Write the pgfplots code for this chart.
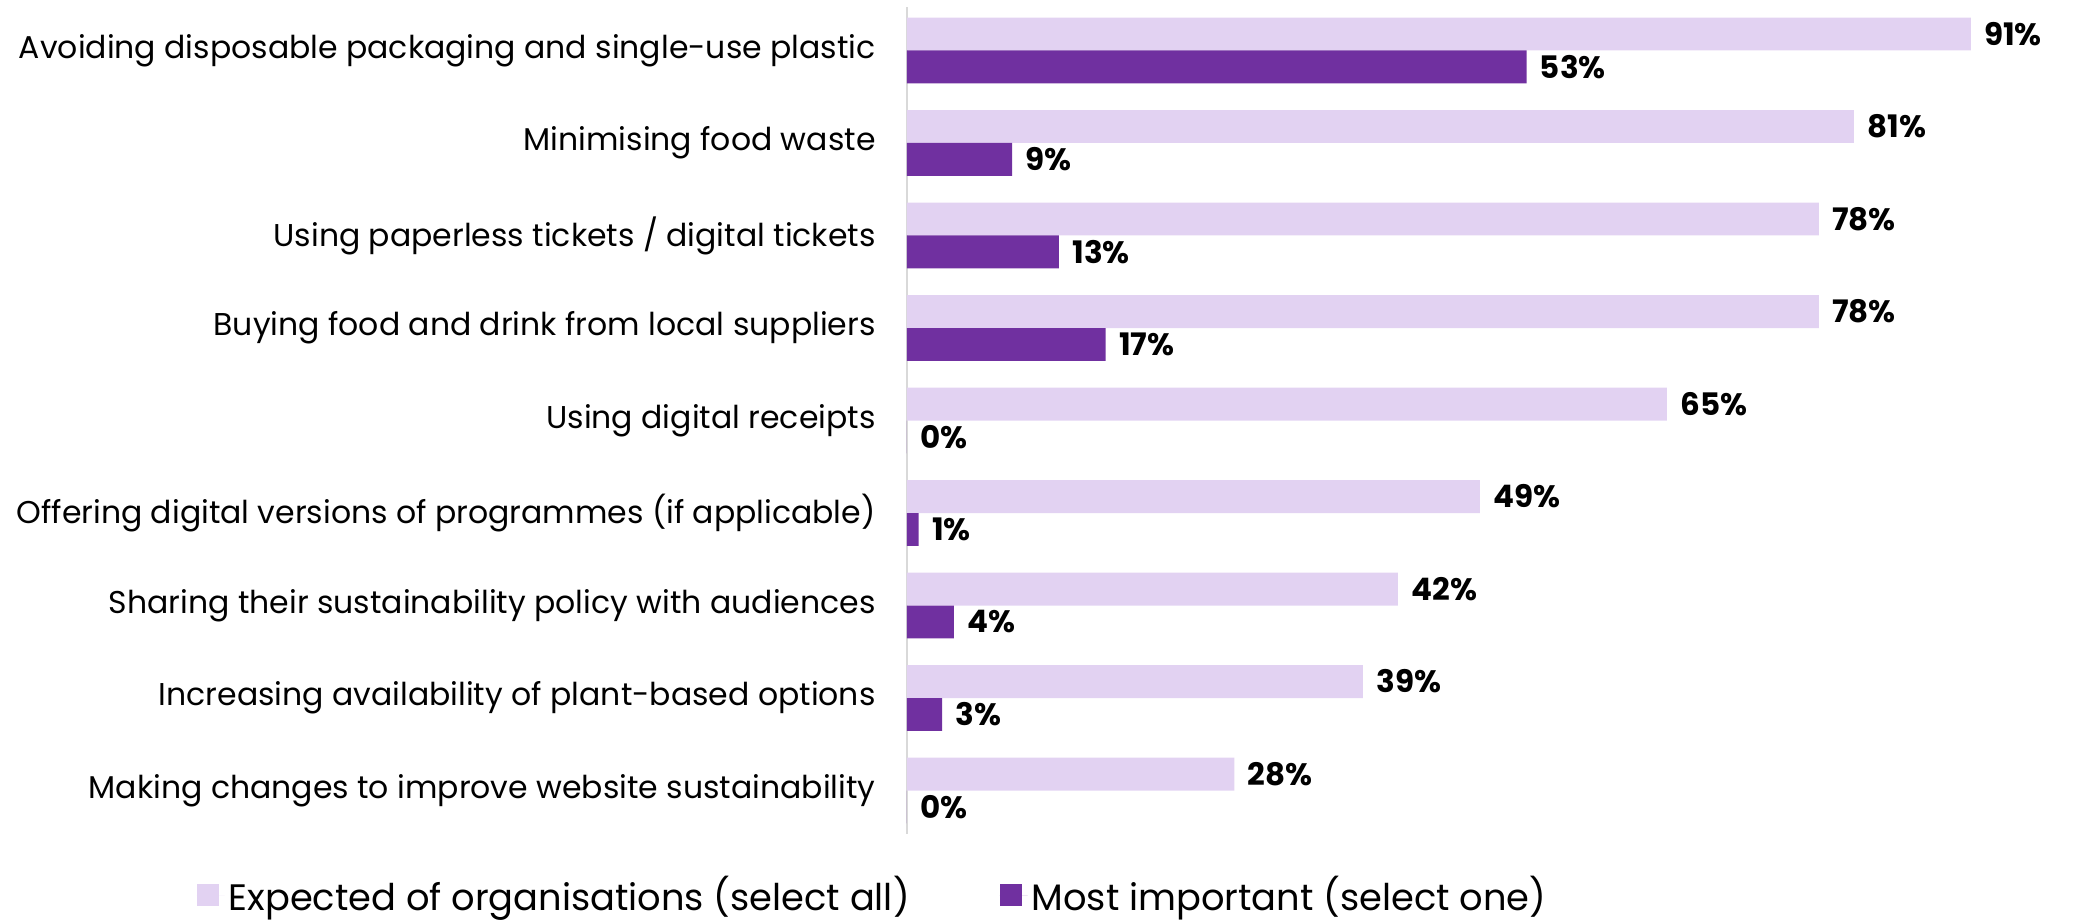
\documentclass[border=0pt]{standalone}
\usepackage{fontspec}
\setmainfont{Poppins}
\usepackage{pgfplots}
\pgfplotsset{compat=1.18}

\definecolor{lightpurple}{HTML}{E2D2F2}
\definecolor{darkpurple}{HTML}{7030A0}
\definecolor{axisgray}{HTML}{D9D9D9}

\pgfplotstableread{
idx expected important
0 91 53
1 81 9
2 78 13
3 78 17
4 65 0
5 49 1
6 42 4
7 39 3
8 28 0
}\datatable

\begin{document}
\begin{tikzpicture}
\begin{axis}[
  at={(0,0)}, anchor=south west,
  scale only axis,
  width=584.5pt, height=413.5pt,
  xbar, bar width=0.356,
  xmin=0, xmax=100,
  ymin=-0.47, ymax=8.47,
  y dir=reverse,
  axis x line=none,
  axis y line=left,
  y axis line style={draw=axisgray, line width=1pt, -},
  ytick=data,
  major tick length=0pt,
  yticklabels={
    Avoiding disposable packaging and single-use plastic,
    Minimising food waste,
    Using paperless tickets / digital tickets,
    Buying food and drink from local suppliers,
    Using digital receipts,
    Offering digital versions of programmes (if applicable),
    Sharing their sustainability policy with audiences,
    Increasing availability of plant-based options,
    Making changes to improve website sustainability},
  yticklabel style={font=\fontsize{15.75}{18}\selectfont, inner sep=0pt, xshift=-15.5pt, text=black},
  point meta=x,
  /pgf/number format/assume math mode=true,
  nodes near coords={\pgfmathprintnumber{\pgfplotspointmeta}\%},
  nodes near coords style={font=\fontsize{15.5}{18}\selectfont\bfseries, anchor=west, inner sep=0pt, xshift=6.5pt, text=black},
  legend style={draw=none, at={(-0.608,-0.074)}, anchor=west, inner sep=0pt,
    legend columns=2, font=\fontsize{18.4}{21}\selectfont,
    /tikz/every even column/.append style={column sep=43pt}},
  legend cell align=left,
  legend image code/.code={\fill[#1] (0pt,-5.5pt) rectangle (11pt,5.5pt); \path (0pt,0pt) -- (14pt,0pt);},
]
\addplot[draw=none, fill=lightpurple, bar shift=-0.178] table[x=expected, y=idx] {\datatable};
\addlegendentry{Expected of organisations (select all)}
\addplot[draw=none, fill=darkpurple, bar shift=0.178] table[x=important, y=idx] {\datatable};
\addlegendentry{Most important (select one)}
\end{axis}
\pgfresetboundingbox
\useasboundingbox (-453.5pt,-43.5pt) rectangle (584pt,417pt);
\end{tikzpicture}
\end{document}
